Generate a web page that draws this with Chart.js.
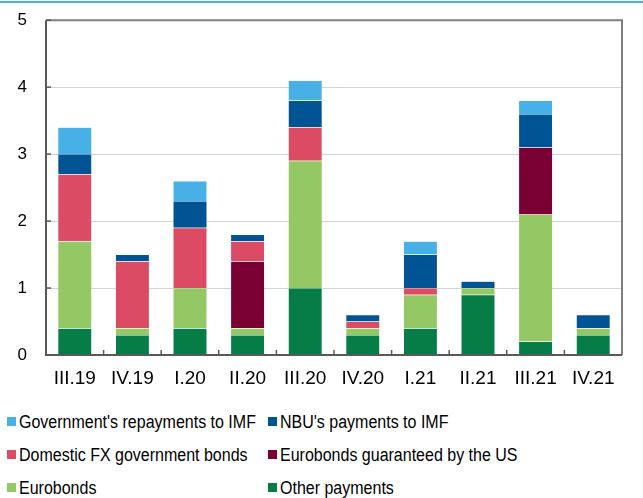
<!DOCTYPE html>
<html>
<head>
<meta charset="utf-8">
<script src="https://cdn.jsdelivr.net/npm/chart.js@4"></script>
<style>
  body { margin: 0; background: #fff; font-family: "Liberation Sans", Arial, sans-serif; }
  #wrap { position: relative; width: 643px; height: 498px; overflow: hidden; }
  #topline { position: absolute; left: 0; top: 1px; width: 643px; height: 2px; background: #45b0e6; z-index: 2; }
  #c { position: absolute; left: 0; top: -9px; }
  .leg { position: absolute; font-size: 16px; color: #000; white-space: nowrap; height: 20px; line-height: 20px; }
  .leg span.box { position: absolute; left: 0; top: 5px; width: 9px; height: 9px; }
  .leg span.txt { position: absolute; left: 12px; top: 0; display: inline-block; transform: scaleY(1.15); transform-origin: 0 50%; }
</style>
</head>
<body>
<div id="wrap">
  <div id="topline"></div>
  <canvas id="c" width="643" height="409"></canvas>
  <div id="legend"></div>
</div>
<script>
// data

const quarters = ['III.19', 'IV.19', 'I.20', 'II.20', 'III.20', 'IV.20', 'I.21', 'II.21', 'III.21', 'IV.21'];

const otherPayments = [0.4, 0.3, 0.4, 0.3, 1.0, 0.3, 0.4, 0.9, 0.2, 0.3];
const eurobonds     = [1.3, 0.1, 0.6, 0.1, 1.9, 0.1, 0.5, 0.1, 1.9, 0.1];
const eurobondsUS   = [0, 0, 0, 1.0, 0, 0, 0, 0, 1.0, 0];
const domesticFX    = [1.0, 1.0, 0.9, 0.3, 0.5, 0.1, 0.1, 0, 0, 0];
const nbuIMF        = [0.3, 0.1, 0.4, 0.1, 0.4, 0.1, 0.5, 0.1, 0.5, 0.2];
const govIMF        = [0.4, 0, 0.3, 0, 0.3, 0, 0.2, 0, 0.2, 0];

const yTicks = [0, 1, 2, 3, 4, 5];

// datasets, bottom of stack first
const series = [
    { label: 'Other payments', data: otherPayments, color: '#067d46' },
    { label: 'Eurobonds', data: eurobonds, color: '#94c864' },
    { label: 'Eurobonds guaranteed by the US', data: eurobondsUS, color: '#7a0033' },
    { label: 'Domestic FX government bonds', data: domesticFX, color: '#dc4b64' },
    { label: "NBU's payments to IMF", data: nbuIMF, color: '#005493' },
    { label: "Government's repayments to IMF", data: govIMF, color: '#47b0e6' }
];

// legend order as in the picture (row by row)
const legendOrder = [
    "Government's repayments to IMF", "NBU's payments to IMF",
    'Domestic FX government bonds', 'Eurobonds guaranteed by the US',
    'Eurobonds', 'Other payments'
];

// box round the plot and the small inside ticks
const frame = {
    id: 'frame',
    afterDraw(chart) {
        const ctx = chart.ctx;
        const a = chart.chartArea;
        const y = chart.scales.y;
        ctx.save();
        ctx.lineWidth = 2;
        ctx.strokeStyle = '#7f7f7f';
        ctx.beginPath();
        ctx.moveTo(a.left, a.top);
        ctx.lineTo(a.right, a.top);
        ctx.lineTo(a.right, a.bottom);
        ctx.stroke();
        ctx.strokeStyle = '#595959';
        ctx.beginPath();
        ctx.moveTo(a.left, a.top);
        ctx.lineTo(a.left, a.bottom);
        ctx.lineTo(a.right, a.bottom);
        ctx.stroke();
        ctx.lineWidth = 1.5;
        for (let v of yTicks) {
            const py = y.getPixelForValue(v);
            ctx.beginPath();
            ctx.moveTo(a.left, py);
            ctx.lineTo(a.left + 5, py);
            ctx.stroke();
        }
        const n = quarters.length;
        for (let i = 1; i < n; i++) {
            const px = a.left + i * (a.right - a.left) / n;
            ctx.beginPath();
            ctx.moveTo(px, a.bottom);
            ctx.lineTo(px, a.bottom - 5);
            ctx.stroke();
        }
        ctx.restore();
    }
};

new Chart(document.getElementById('c'), {
    type: 'bar',
    data: {
        labels: quarters,
        datasets: series.map(s => ({
            label: s.label,
            data: s.data,
            backgroundColor: s.color,
            borderColor: 'rgba(255,255,255,0.25)',
            borderWidth: 0.5,
            categoryPercentage: 1,
            barPercentage: 0.59
        }))
    },
    options: {
        responsive: false,
        animation: false,
        layout: { padding: { left: 0, right: 21, top: 11, bottom: 0 } },
        plugins: { legend: { display: false }, tooltip: { enabled: false } },
        scales: {
            x: {
                stacked: true,
                grid: { display: false, drawTicks: false },
                border: { display: false },
                ticks: { color: '#000', font: { family: 'Liberation Sans', size: 19 }, padding: 12, maxRotation: 0 },
                afterFit: s => { s.height = 45; }
            },
            y: {
                stacked: true,
                min: 0,
                max: 5,
                grid: {
                    drawTicks: false,
                    color: c => (c.tick.value === 0 || c.tick.value === 5) ? 'rgba(0,0,0,0)' : '#d3d3d3',
                    lineWidth: 1
                },
                border: { display: false },
                ticks: { stepSize: 1, color: '#000', font: { family: 'Liberation Sans', size: 17 }, padding: 19 },
                afterFit: s => { s.width = 46; }
            }
        }
    },
    plugins: [frame]
});

// legend
const legendBox = document.getElementById('legend');
legendOrder.forEach((name, i) => {
    const s = series.find(d => d.label === name);
    const item = document.createElement('div');
    item.className = 'leg';
    item.style.left = (i % 2 === 0 ? 7 : 268) + 'px';
    item.style.top = (412 + Math.floor(i / 2) * 33) + 'px';
    item.innerHTML = `<span class="box" style="background:${s.color}"></span><span class="txt">${name}</span>`;
    legendBox.appendChild(item);
});
</script>
</body>
</html>
